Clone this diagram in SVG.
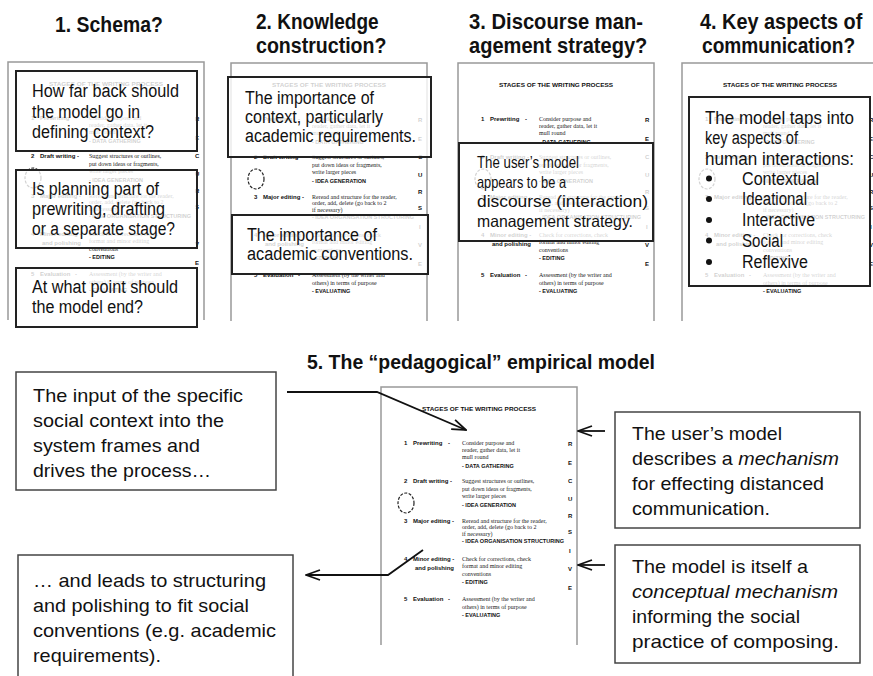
<svg xmlns="http://www.w3.org/2000/svg" width="873" height="676" viewBox="0 0 873 676">
<style>
.h{font-family:"Liberation Sans",Arial,sans-serif;font-weight:bold;font-size:22px;fill:#111}
.t{font-family:"Liberation Sans",Arial,sans-serif;font-size:18px;fill:#111}
.t3{font-family:"Liberation Sans",Arial,sans-serif;font-size:16.5px;fill:#111}
.b{font-family:"Liberation Sans",Arial,sans-serif;font-size:19px;fill:#111}
.i{font-style:italic}
.box{fill:#fff;fill-opacity:0.8;stroke:#222;stroke-width:2}
.bbox{fill:#fff;stroke:#444;stroke-width:1.5}
.page{fill:none;stroke:#999;stroke-width:1.5}
.dl{font-family:"Liberation Sans",Arial,sans-serif;font-weight:bold;font-size:6px;fill:#111}
.dd{font-family:"Liberation Serif","Times New Roman",serif;font-size:6px;fill:#222}
.db{font-family:"Liberation Sans",Arial,sans-serif;font-weight:bold;font-size:5.5px;fill:#111}
.cyc{fill:none;stroke:#222;stroke-width:1.2;stroke-dasharray:3 1.5}
.conn{fill:none;stroke:#111;stroke-width:1.8}
.dot{fill:#111}
</style>
<defs>
<marker id="arr" viewBox="0 0 16 12" refX="15" refY="6" markerWidth="16" markerHeight="12" markerUnits="userSpaceOnUse" orient="auto">
<path d="M1,1 L15,6 L1,11" fill="none" stroke="#111" stroke-width="1.8"/>
</marker>
<g id="doc">
<path class="page" d="M0,258V0H196V258"/>
<text class="dl" x="98" y="24" text-anchor="middle" textLength="114" lengthAdjust="spacingAndGlyphs">STAGES OF THE WRITING PROCESS</text>
<text class="dl" x="23" y="58">1</text><text class="dl" x="32" y="58">Prewriting</text><text class="dl" x="67" y="58">-</text>
<text class="dd" x="81" y="58">Consider purpose and</text>
<text class="dd" x="81" y="65">reader, gather data, let it</text>
<text class="dd" x="81" y="72">mull round</text>
<text class="db" x="81" y="81">- DATA GATHERING</text>
<text class="dl" x="23" y="96">2</text><text class="dl" x="32" y="96">Draft writing</text><text class="dl" x="69" y="96">-</text>
<text class="dd" x="81" y="96">Suggest structures or outlines,</text>
<text class="dd" x="81" y="104">put down ideas or fragments,</text>
<text class="dd" x="81" y="111">write larger pieces</text>
<text class="db" x="81" y="120">- IDEA GENERATION</text>
<ellipse class="cyc" cx="25" cy="116" rx="8" ry="10"/>
<text class="dl" x="23" y="136">3</text><text class="dl" x="32" y="136">Major editing -</text>
<text class="dd" x="81" y="136">Reread and structure for the reader,</text>
<text class="dd" x="81" y="142">order, add, delete (go back to 2</text>
<text class="dd" x="81" y="149">if necessary)</text>
<text class="db" x="81" y="156" textLength="102" lengthAdjust="spacingAndGlyphs">- IDEA ORGANISATION STRUCTURING</text>
<text class="dl" x="23" y="174">4</text><text class="dl" x="32" y="174">Minor editing -</text><text class="dl" x="34" y="183">and polishing</text>
<text class="dd" x="81" y="174">Check for corrections, check</text>
<text class="dd" x="81" y="181">format and minor editing</text>
<text class="dd" x="81" y="189">conventions</text>
<text class="db" x="81" y="197">- EDITING</text>
<text class="dl" x="23" y="214">5</text><text class="dl" x="32" y="214">Evaluation</text><text class="dl" x="67" y="214">-</text>
<text class="dd" x="81" y="214">Assessment (by the writer and</text>
<text class="dd" x="81" y="222">others) in terms of purpose</text>
<text class="db" x="81" y="230">- EVALUATING</text>
<text class="dl" x="187" y="59">R</text>
<text class="dl" x="187" y="78">E</text>
<text class="dl" x="187" y="96">C</text>
<text class="dl" x="187" y="114">U</text>
<text class="dl" x="187" y="131">R</text>
<text class="dl" x="187" y="147">S</text>
<text class="dl" x="188" y="166">I</text>
<text class="dl" x="187" y="184">V</text>
<text class="dl" x="187" y="203">E</text>
</g>
</defs>
<rect width="873" height="676" fill="#fff"/>

<!-- Panel 1 -->
<g id="panel1">
<g transform="translate(55,31.5) scale(0.87,1)"><text class="h" x="0" y="0" textLength="124" lengthAdjust="spacingAndGlyphs">1. Schema?</text></g>
<use href="#doc" x="8" y="62"/>
</g>
<g id="box1a">
<rect class="box" x="16" y="71" width="181" height="80"/>
<text class="t" x="32" y="97" textLength="147" lengthAdjust="spacingAndGlyphs">How far back should</text>
<text class="t" x="32" y="118" textLength="108" lengthAdjust="spacingAndGlyphs">the model go in</text>
<text class="t" x="32" y="138" textLength="122" lengthAdjust="spacingAndGlyphs">defining context?</text>
</g>
<g id="box1b">
<rect class="box" x="16" y="170" width="181" height="78"/>
<text class="t" x="32" y="195" textLength="127" lengthAdjust="spacingAndGlyphs">Is planning part of</text>
<text class="t" x="32" y="215" textLength="133" lengthAdjust="spacingAndGlyphs">prewriting, drafting</text>
<text class="t" x="32" y="235" textLength="143" lengthAdjust="spacingAndGlyphs">or a separate stage?</text>
</g>
<g id="box1c">
<rect class="box" x="16" y="268" width="181" height="59"/>
<text class="t" x="32" y="293" textLength="146" lengthAdjust="spacingAndGlyphs">At what point should</text>
<text class="t" x="32" y="313" textLength="111" lengthAdjust="spacingAndGlyphs">the model end?</text>
</g>

<!-- Panel 2 -->
<g id="panel2">
<g transform="translate(256,28.5) scale(0.87,1)"><text class="h" x="0" y="0" textLength="141" lengthAdjust="spacingAndGlyphs">2. Knowledge</text></g>
<g transform="translate(256,52.5) scale(0.87,1)"><text class="h" x="0" y="0" textLength="150" lengthAdjust="spacingAndGlyphs">construction?</text></g>
<use href="#doc" x="231" y="63"/>
</g>
<g id="box2a">
<rect class="box" x="228" y="77" width="203" height="80"/>
<text class="t" x="245" y="104" textLength="129" lengthAdjust="spacingAndGlyphs">The importance of</text>
<text class="t" x="245" y="123" textLength="138" lengthAdjust="spacingAndGlyphs">context, particularly</text>
<text class="t" x="245" y="142" textLength="171" lengthAdjust="spacingAndGlyphs">academic requirements.</text>
</g>
<g id="box2b">
<rect class="box" x="232" y="215" width="196" height="59"/>
<text class="t" x="247" y="241" textLength="130" lengthAdjust="spacingAndGlyphs">The importance of</text>
<text class="t" x="247" y="260" textLength="166" lengthAdjust="spacingAndGlyphs">academic conventions.</text>
</g>

<!-- Panel 3 -->
<g id="panel3">
<g transform="translate(469,28.5) scale(0.87,1)"><text class="h" x="0" y="0" textLength="200" lengthAdjust="spacingAndGlyphs">3. Discourse man-</text></g>
<g transform="translate(469,52.5) scale(0.87,1)"><text class="h" x="0" y="0" textLength="205" lengthAdjust="spacingAndGlyphs">agement strategy?</text></g>
<use href="#doc" x="458" y="63"/>
</g>
<g id="box3">
<rect class="box" x="459" y="143" width="194" height="98"/>
<text class="t3" x="477" y="168" textLength="102" lengthAdjust="spacingAndGlyphs">The user’s model</text>
<text class="t3" x="477" y="188" textLength="89" lengthAdjust="spacingAndGlyphs">appears to be a</text>
<text class="t3" x="477" y="207" textLength="171" lengthAdjust="spacingAndGlyphs">discourse  (interaction)</text>
<text class="t3" x="477" y="227" textLength="156" lengthAdjust="spacingAndGlyphs">management strategy.</text>
</g>

<!-- Panel 4 -->
<g id="panel4">
<g transform="translate(700,28.5) scale(0.85,1)"><text class="h" x="0" y="0" textLength="191" lengthAdjust="spacingAndGlyphs">4. Key aspects of</text></g>
<g transform="translate(702,52.5) scale(0.87,1)"><text class="h" x="0" y="0" textLength="176" lengthAdjust="spacingAndGlyphs">communication?</text></g>
<use href="#doc" x="682" y="63"/>
</g>
<g id="box4">
<rect class="box" x="689" y="97" width="181" height="189"/>
<text class="t" x="705" y="123.5" textLength="149" lengthAdjust="spacingAndGlyphs">The model taps into</text>
<text class="t" x="705" y="144" textLength="93" lengthAdjust="spacingAndGlyphs">key aspects of</text>
<text class="t" x="705" y="164.5" textLength="149" lengthAdjust="spacingAndGlyphs">human interactions:</text>
<circle class="dot" cx="709" cy="178.5" r="3"/>
<text class="t" x="742" y="184.5" textLength="77" lengthAdjust="spacingAndGlyphs">Contextual</text>
<circle class="dot" cx="709" cy="199" r="3"/>
<text class="t" x="742" y="205" textLength="65" lengthAdjust="spacingAndGlyphs">Ideational</text>
<circle class="dot" cx="709" cy="220" r="3"/>
<text class="t" x="742" y="226" textLength="73" lengthAdjust="spacingAndGlyphs">Interactive</text>
<circle class="dot" cx="709" cy="240.5" r="3"/>
<text class="t" x="742" y="246.5" textLength="41" lengthAdjust="spacingAndGlyphs">Social</text>
<circle class="dot" cx="709" cy="262" r="3"/>
<text class="t" x="742" y="267.5" textLength="66" lengthAdjust="spacingAndGlyphs">Reflexive</text>
</g>

<!-- Panel 5 -->
<g id="panel5">
<text class="h" x="307" y="369" style="font-size:20px" textLength="348" lengthAdjust="spacingAndGlyphs">5. The “pedagogical”  empirical model</text>
<use href="#doc" x="381" y="387"/>
</g>
<g id="boxL1">
<rect class="bbox" x="16" y="372" width="260" height="118"/>
<text class="b" x="33" y="401.5" textLength="210" lengthAdjust="spacingAndGlyphs">The input of the specific</text>
<text class="b" x="33" y="426.5" textLength="191" lengthAdjust="spacingAndGlyphs">social context into the</text>
<text class="b" x="33" y="451.5" textLength="167" lengthAdjust="spacingAndGlyphs">system frames and</text>
<text class="b" x="33" y="476.5" textLength="178" lengthAdjust="spacingAndGlyphs">drives the process…</text>
</g>
<g id="boxL2">
<rect class="bbox" x="18" y="555" width="275" height="130"/>
<text class="b" x="33" y="586.5" textLength="233" lengthAdjust="spacingAndGlyphs">… and leads to structuring</text>
<text class="b" x="33" y="611.5" textLength="216" lengthAdjust="spacingAndGlyphs">and polishing to fit social</text>
<text class="b" x="33" y="636.5" textLength="243" lengthAdjust="spacingAndGlyphs">conventions (e.g. academic</text>
<text class="b" x="33" y="661.5" textLength="128" lengthAdjust="spacingAndGlyphs">requirements).</text>
</g>
<g id="boxR1">
<rect class="bbox" x="615" y="412" width="245" height="116"/>
<text class="b" x="632" y="440" textLength="150" lengthAdjust="spacingAndGlyphs">The user’s model</text>
<text class="b" x="632" y="465" textLength="207" lengthAdjust="spacingAndGlyphs">describes a <tspan class="i">mechanism</tspan></text>
<text class="b" x="632" y="490" textLength="192" lengthAdjust="spacingAndGlyphs">for effecting distanced</text>
<text class="b" x="632" y="515" textLength="138" lengthAdjust="spacingAndGlyphs">communication.</text>
</g>
<g id="boxR2">
<rect class="bbox" x="615" y="545" width="245" height="118"/>
<text class="b" x="632" y="573" textLength="176" lengthAdjust="spacingAndGlyphs">The model is itself a</text>
<text class="b i" x="632" y="598" textLength="206" lengthAdjust="spacingAndGlyphs">conceptual  mechanism</text>
<text class="b" x="632" y="623" textLength="168" lengthAdjust="spacingAndGlyphs">informing the social</text>
<text class="b" x="632" y="648" textLength="207" lengthAdjust="spacingAndGlyphs">practice of composing.</text>
</g>

<g id="connectors">
<polyline class="conn" points="287,392 377,392 466,430" marker-end="url(#arr)"/>
<polyline class="conn" points="423,550 388,575 306,575" marker-end="url(#arr)"/>
<line class="conn" x1="605" y1="431" x2="578" y2="431" marker-end="url(#arr)"/>
<line class="conn" x1="605" y1="565" x2="578" y2="565" marker-end="url(#arr)"/>
</g>
</svg>
